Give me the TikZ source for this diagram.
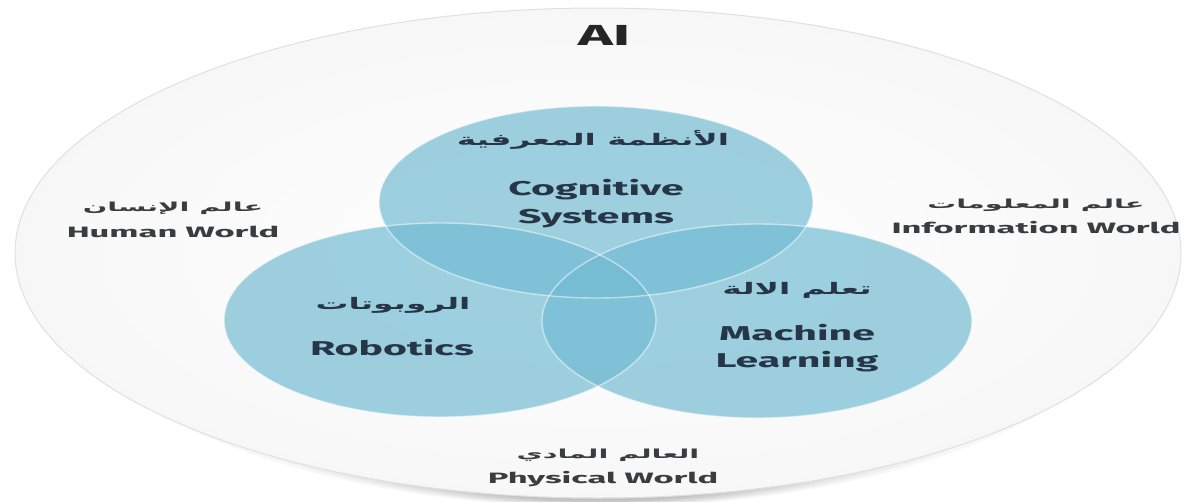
\documentclass[tikz,border=0pt]{standalone}
\usepackage{graphicx}
\usepackage{fontspec}
\setmainfont{Fira Sans}
\newfontfamily\arabicfont[Script=Arabic]{DejaVu Sans}
\TeXXeTstate=1
\definecolor{vennblue}{RGB}{114,187,210}
\definecolor{navy}{RGB}{38,54,70}
\definecolor{worldgray}{RGB}{58,60,62}
\definecolor{rimgray}{RGB}{222,224,226}
% horizontal stretch applied to the labels
\newcommand\wide[1]{\scalebox{2.05}[1]{#1}}
\newcommand\ar[1]{\wide{\beginR #1\endR}}
\newcommand\widew[1]{\scalebox{2.3}[1]{#1}}
\newcommand\arw[1]{\widew{\beginR #1\endR}}
\begin{document}
\begin{tikzpicture}[x=1pt,y=-1pt,
  venn/.style={fill=vennblue, fill opacity=0.69},
  vennrim/.style={draw=white, draw opacity=0.5, line width=1.4pt},
  lbl/.style={text=navy, font=\bfseries\fontsize{20}{24}\selectfont, inner sep=0pt, anchor=base},
  arlbl/.style={text=navy, font=\arabicfont\bfseries\fontsize{16}{20}\selectfont, inner sep=0pt},
  world/.style={text=worldgray, font=\bfseries\fontsize{15}{17}\selectfont, inner sep=0pt, anchor=base},
  arworld/.style={text=worldgray, font=\arabicfont\bfseries\fontsize{12.5}{14}\selectfont, inner sep=0pt},
]
\useasboundingbox (0,0) rectangle (1189,501);
\fill[white] (0,0) rectangle (1189,501);

% soft shadow under the outer disk
\foreach \d in {0,2,...,14}
  \fill[black, opacity=0.03] (600,{262+\d*0.5}) ellipse [x radius={560-\d*8}, y radius={245-\d*0.9}];

% outer AI disk
\shade[inner color=white, outer color=black!3] (598,253) ellipse [x radius=583, y radius=245];
\draw[rimgray, line width=1pt] (598,253) ellipse [x radius=583, y radius=245];

% three overlapping circles
\fill[venn] (596,202) ellipse [x radius=217, y radius=96];
\fill[venn] (440,320) ellipse [x radius=216, y radius=97];
\fill[venn] (757,321) ellipse [x radius=215, y radius=97];
\draw[vennrim] (596,202) ellipse [x radius=217, y radius=96];
\draw[vennrim] (440,320) ellipse [x radius=216, y radius=97];
\draw[vennrim] (757,321) ellipse [x radius=215, y radius=97];

% title
\node[text=black!85, font=\bfseries\fontsize{29}{32}\selectfont, inner sep=0pt, anchor=base] (ai) at (604,45) {\wide{AI}};

% cognitive systems
\node[arlbl] (cogar) at (593,140) {\ar{الأنظمة المعرفية}};
\node[lbl] (cog1) at (596,195) {\wide{Cognitive}};
\node[lbl] (cog2) at (596,223) {\wide{Systems}};

% robotics
\node[arlbl] (robar) at (393,305) {\ar{الروبوتات}};
\node[lbl] (rob) at (392,355) {\wide{Robotics}};

% machine learning
\node[arlbl] (mlar) at (797,290) {\ar{تعلم الالة}};
\node[lbl] (ml1) at (797,340) {\wide{Machine}};
\node[lbl] (ml2) at (797,367) {\wide{Learning}};

% the surrounding worlds
\node[arworld] (humar) at (173,208) {\arw{عالم الإنسان}};
\node[world] (hum) at (173,237) {\widew{Human World}};

\node[arworld] (infar) at (1036,205) {\arw{عالم المعلومات}};
\node[world] (inf) at (1036,233) {\widew{Information World}};

\node[arworld] (phyar) at (608,455) {\arw{العالم المادي}};
\node[world] (phy) at (603,483) {\widew{Physical World}};
\end{tikzpicture}
\end{document}
